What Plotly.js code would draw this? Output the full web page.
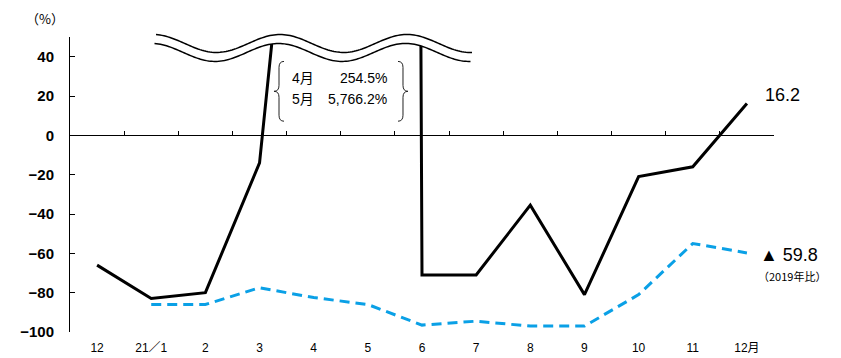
<!DOCTYPE html>
<html>
<head>
<meta charset="utf-8">
<script src="https://cdn.plot.ly/plotly-3.0.1.min.js"></script>
<style>html,body{margin:0;padding:0;background:#fff;}#chart{width:841px;height:358px;}</style>
</head>
<body>
<div id="chart"></div>
<script>
// ---- data ----
const categories = ['12', '21／1', '2', '3', '4', '5', '6', '7', '8', '9', '10', '11', '12月'];
const yoyChange = [-66, -83, -80, -14, 254.5, 5766.2, -71, -71, -35.5, -81, -21, -16, 16.2];
const vs2019 = [null, -86, -86, -77.5, -82.5, -86, -96.5, -94.5, -97, -97, -81, -55, -59.8];
const yTicks = [-100, -80, -60, -40, -20, 0, 20, 40];

// ---- layout helpers (pixel -> paper) ----
const W = 841, H = 358, L = 70, R = 774, T = 36.5, B = 332.5;
const yMin = -100, yMax = 50;
const px = x => ((x - L) / (R - L)).toFixed(5);
const py = y => ((B - y) / (B - T)).toFixed(5);
const P = (x, y) => px(x) + ',' + py(y);

const FONT = 'Liberation Sans, Arial, Noto Sans CJK JP, sans-serif';
const CJK = 'Noto Sans CJK JP, Liberation Sans, sans-serif';

// wave band (axis break)
function waveTop(x) { return 43 - 9 * Math.cos(2 * Math.PI * (x - 280) / 127); }
const wx0 = 156, wx1 = 472, gap = 9;
let topPts = [], botPts = [];
for (let x = wx0; x <= wx1; x += 2) {
  topPts.push([x, waveTop(x)]);
  botPts.push([x - 1.5, waveTop(x) + gap]);
}
const pathOf = pts => 'M ' + pts.map(p => P(p[0], p[1])).join(' L ');
const fillPath = pathOf(topPts.concat(botPts.slice().reverse())) + ' Z';

function brace(xv, dir) { // dir = -1 points left, +1 points right
  const xt = xv + 5 * dir, xh = xv - 5 * dir;
  return 'M ' + P(xh, 61) + ' Q ' + P(xv, 61) + ' ' + P(xv, 67) + ' L ' + P(xv, 85) +
    ' Q ' + P(xv, 91) + ' ' + P(xt, 91) + ' Q ' + P(xv, 91) + ' ' + P(xv, 97) +
    ' L ' + P(xv, 115) + ' Q ' + P(xv, 121) + ' ' + P(xh, 121);
}

const fmtPct = v => v.toLocaleString('en-US', {minimumFractionDigits: 1, maximumFractionDigits: 1}) + '%';

const boundaryTicks = [];
for (let i = 0; i <= categories.length; i++) boundaryTicks.push(i - 0.5);

const traces = [
  {
    x: categories, y: yoyChange, type: 'scatter', mode: 'lines',
    line: {color: '#000', width: 3}, hoverinfo: 'skip', showlegend: false
  },
  {
    x: categories, y: vs2019, type: 'scatter', mode: 'lines',
    line: {color: '#0AA0E6', width: 3, dash: '10px,6px'}, hoverinfo: 'skip', showlegend: false
  },
  {
    x: [], y: [], xaxis: 'x2', type: 'scatter', mode: 'lines', showlegend: false, hoverinfo: 'skip'
  }
];

const last = categories.length - 1;
const layout = {
  width: W, height: H,
  margin: {l: L, r: W - R, t: T, b: H - B, pad: 0},
  paper_bgcolor: '#fff', plot_bgcolor: 'rgba(0,0,0,0)',
  font: {family: FONT, color: '#000'},
  xaxis: {
    type: 'category', range: [-0.5, categories.length - 0.5],
    showline: false, ticks: '', showgrid: false, zeroline: false,
    tickfont: {size: 12, family: FONT}, ticklabelstandoff: 7
  },
  xaxis2: {
    overlaying: 'x', anchor: 'free', position: (0 - yMin) / (yMax - yMin),
    range: [-0.5, categories.length - 0.5], showline: true, linecolor: '#000', linewidth: 1,
    ticks: 'inside', ticklen: 4, tickwidth: 1, tickcolor: '#000',
    tickmode: 'array', tickvals: boundaryTicks, showticklabels: false,
    showgrid: false, zeroline: false
  },
  yaxis: {
    range: [yMin, yMax], showline: true, linecolor: '#000', linewidth: 1,
    ticks: 'inside', ticklen: 5, tickwidth: 1, tickcolor: '#000',
    tickmode: 'array', tickvals: yTicks, showgrid: false, zeroline: false,
    tickfont: {size: 15, family: FONT, weight: 'bold'}, ticklabelstandoff: 12
  },
  shapes: [
    {type: 'path', xref: 'paper', yref: 'paper', path: fillPath, fillcolor: '#fff', line: {width: 0}, layer: 'above'},
    {type: 'path', xref: 'paper', yref: 'paper', path: pathOf(topPts), line: {color: '#000', width: 1.5}, layer: 'above'},
    {type: 'path', xref: 'paper', yref: 'paper', path: pathOf(botPts), line: {color: '#000', width: 1.5}, layer: 'above'},
    {type: 'path', xref: 'paper', yref: 'paper', path: brace(279, -1), line: {color: '#222', width: 1}, layer: 'above'},
    {type: 'path', xref: 'paper', yref: 'paper', path: brace(403, 1), line: {color: '#222', width: 1}, layer: 'above'}
  ],
  annotations: [
    {xref: 'paper', yref: 'paper', x: px(24), y: py(18), xanchor: 'left', yanchor: 'middle',
     text: '（%）', showarrow: false, font: {size: 13, family: CJK}},
    {xref: 'paper', yref: 'paper', x: px(290), y: py(78), xanchor: 'left', yanchor: 'middle',
     text: '4月', showarrow: false, font: {size: 14, family: FONT}},
    {xref: 'paper', yref: 'paper', x: px(389), y: py(78), xanchor: 'right', yanchor: 'middle',
     text: fmtPct(yoyChange[4]), showarrow: false, font: {size: 14, family: FONT}},
    {xref: 'paper', yref: 'paper', x: px(290), y: py(99), xanchor: 'left', yanchor: 'middle',
     text: '5月', showarrow: false, font: {size: 14, family: FONT}},
    {xref: 'paper', yref: 'paper', x: px(389), y: py(99), xanchor: 'right', yanchor: 'middle',
     text: fmtPct(yoyChange[5]), showarrow: false, font: {size: 14, family: FONT}},
    {x: categories[last], y: yoyChange[last], xref: 'x', yref: 'y', xanchor: 'left', yanchor: 'middle',
     xshift: 16, yshift: 8, text: yoyChange[last].toFixed(1), showarrow: false, font: {size: 18, family: FONT}},
    {x: categories[last], y: vs2019[last], xref: 'x', yref: 'y', xanchor: 'left', yanchor: 'middle',
     xshift: 11, yshift: -2, text: '▲ ' + Math.abs(vs2019[last]).toFixed(1), showarrow: false, font: {size: 18, family: FONT}},
    {x: categories[last], y: vs2019[last], xref: 'x', yref: 'y', xanchor: 'left', yanchor: 'middle',
     xshift: 9, yshift: -23, text: '（2019年比）', showarrow: false, font: {size: 11, family: CJK}}
  ]
};

Plotly.newPlot('chart', traces, layout, {staticPlot: true, displayModeBar: false});
</script>
</body>
</html>
